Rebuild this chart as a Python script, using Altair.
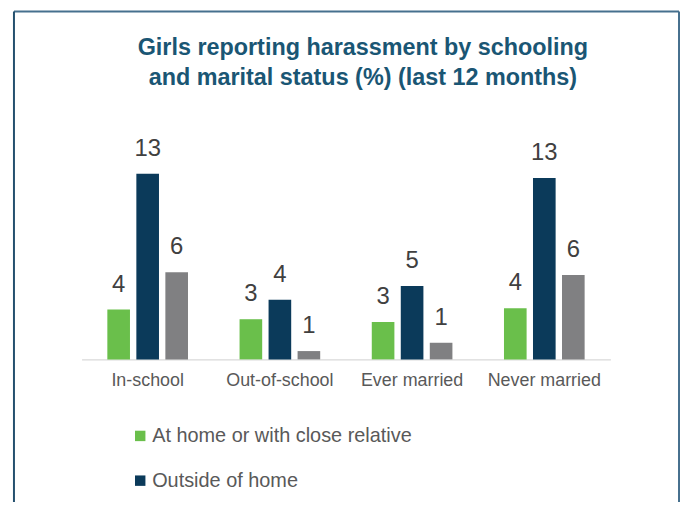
import altair as alt
import pandas as pd

categories = ["In-school", "Out-of-school", "Ever married", "Never married"]
series = ["At home or with close relative", "Outside of home", "Both"]
at_home = [3.6, 2.9, 2.7, 3.7]
outside = [13.4, 4.3, 5.3, 13.1]
both = [6.3, 0.6, 1.2, 6.1]
colors = ["#6abf4b", "#0b3a5a", "#808082"]
title_lines = ["Girls reporting harassment by schooling", "and marital status (%) (last 12 months)"]

rows = []
for s, vals in zip(series, [at_home, outside, both]):
    for c, v in zip(categories, vals):
        rows.append({"category": c, "series": s, "value": v})
df = pd.DataFrame(rows)

FONT = "Liberation Sans, Arial, sans-serif"

x = alt.X("category:N", sort=categories, title=None,
          scale=alt.Scale(paddingInner=0.39, paddingOuter=0.195),
          axis=alt.Axis(labelAngle=0, ticks=False, domainColor="#d9d9d9", domainWidth=1.5,
                        labelFont=FONT, labelFontSize=18, labelColor="#595959", labelPadding=12))
xo = alt.XOffset("series:N", sort=series, scale=alt.Scale(paddingInner=0.22))
y = alt.Y("value:Q", scale=alt.Scale(domain=[0, 14]), axis=None)

bars = alt.Chart(df).mark_bar().encode(
    x=x, xOffset=xo, y=y,
    color=alt.Color("series:N", sort=series,
                    scale=alt.Scale(domain=series, range=colors),
                    legend=alt.Legend(values=series[:2], orient="none", legendX=49, legendY=262,
                                      title=None, symbolType="square", symbolSize=110,
                                      symbolStrokeWidth=0, labelFont=FONT, labelFontSize=20,
                                      labelColor="#595959", rowPadding=25, padding=0,
                                      labelOffset=2, labelLimit=0)),
)
labels = alt.Chart(df).mark_text(baseline="alphabetic", dy=-18, font=FONT, fontSize=24,
                                 color="#404040").encode(
    x=x, xOffset=xo, y=y, text=alt.Text("value:Q", format=".0f"))

one = pd.DataFrame({"k": [0]})
frame_color = "#46708e"
top_rule = alt.Chart(one).mark_rule(color=frame_color, strokeWidth=2).encode(
    x=alt.value(-68), x2=alt.value(601), y=alt.value(-155))
left_rule = alt.Chart(one).mark_rule(color="#24506e", strokeWidth=2).encode(
    x=alt.value(-68), y=alt.value(-155), y2=alt.value(350))
right_rule = alt.Chart(one).mark_rule(color=frame_color, strokeWidth=2).encode(
    x=alt.value(601), y=alt.value(-155), y2=alt.value(350))

chart = alt.layer(bars, labels, top_rule, left_rule, right_rule).properties(
    width=532, height=195,
    title=alt.Title(title_lines, font=FONT, fontSize=23.5, fontWeight="bold", color="#1a5674",
                    anchor="middle", dx=17, offset=0, dy=79, lineHeight=30),
    padding={"left": 74, "top": 157, "right": 70, "bottom": 142},
    autosize=alt.AutoSizeParams(type="none"),
).configure(view=alt.ViewConfig(stroke=None))

chart.save("out.html", embed_options={"renderer": "svg", "actions": False})
